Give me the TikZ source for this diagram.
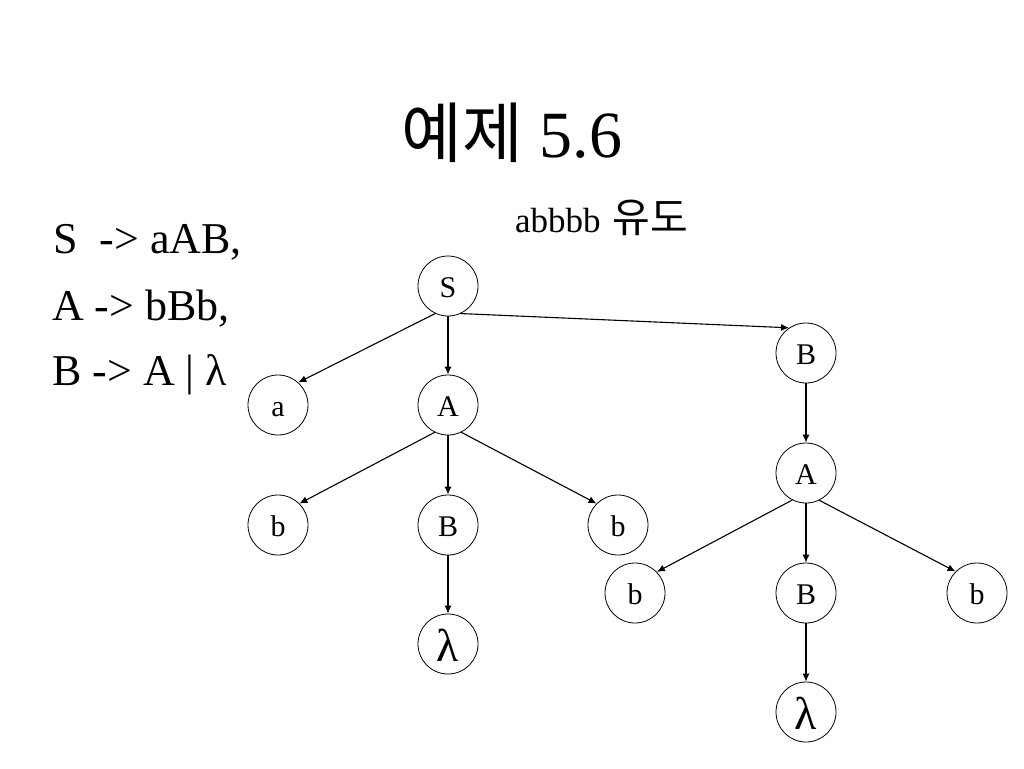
\documentclass[tikz,border=0pt]{standalone}
\usepackage{fontspec}
\setmainfont{Liberation Serif}
\newfontfamily\krfont{Noto Sans CJK KR}
\usetikzlibrary{arrows.meta,positioning}

\begin{document}
\begin{tikzpicture}[x=1pt, y=-1pt, >={Latex[length=8pt,width=7pt]},
    sym/.style={draw, circle, minimum size=60pt, inner sep=0pt, line width=0.8pt, text height=23pt, text depth=0pt, font=\fontsize{30}{30}\selectfont},
    lam/.style={sym, text height=35pt, font=\fontsize{46}{46}\selectfont},
    edge/.style={->, line width=1.1pt},
    rule/.style={anchor=base west, inner sep=0pt, font=\fontsize{44}{44}\selectfont}]
    \useasboundingbox (0,0) rectangle (1024,768);
    % title and grammar
    \node [anchor=base, inner sep=0pt, font=\fontsize{66}{66}\selectfont] (title) at (512,157) {{\krfont\fontsize{66}{66}\selectfont 예제} 5.6};
    \node [rule] (r1) at (53,253) {S\ \ -> aAB,};
    \node [rule] (r2) at (52,320) {A -> bBb,};
    \node [rule] (r3) at (52,385) {B -> A | λ};
    \node [anchor=base west, inner sep=0pt, font=\fontsize{35}{35}\selectfont] (goal) at (515,232) {abbbb\hspace{12pt}{\krfont\fontsize{41}{41}\selectfont 유도}};

    % derivation tree
    \node [sym] (S) at (448,286) {S};
    \node [sym] (a) at (278,405) {a};
    \node [sym] (A) at (448,405) {A};
    \node [sym] (B2) at (806,353) {B};
    \node [sym] (b1) at (278,525) {b};
    \node [sym] (B1) at (448,525) {B};
    \node [sym] (b2) at (618,525) {b};
    \node [lam] (l1) at (448,644) {λ};
    \node [sym] (A2) at (806,473) {A};
    \node [sym] (b3) at (635,593) {b};
    \node [sym] (B3) at (806,593) {B};
    \node [sym] (b4) at (977,593) {b};
    \node [lam] (l2) at (806,712) {λ};

    \draw [edge] (S.-115) -- (a.48);
    \draw [edge] (S) -- (A);
    \draw [edge] (S.-65) -- (B2.124);
    \draw [edge] (A.-116) -- (b1.45);
    \draw [edge] (A) -- (B1);
    \draw [edge] (A.-64) -- (b2.135);
    \draw [edge] (B1) -- (l1);
    \draw [edge] (B2) -- (A2);
    \draw [edge] (A2.-117) -- (b3.44);
    \draw [edge] (A2) -- (B3);
    \draw [edge] (A2.-64) -- (b4.135);
    \draw [edge] (B3) -- (l2);
\end{tikzpicture}
\end{document}
